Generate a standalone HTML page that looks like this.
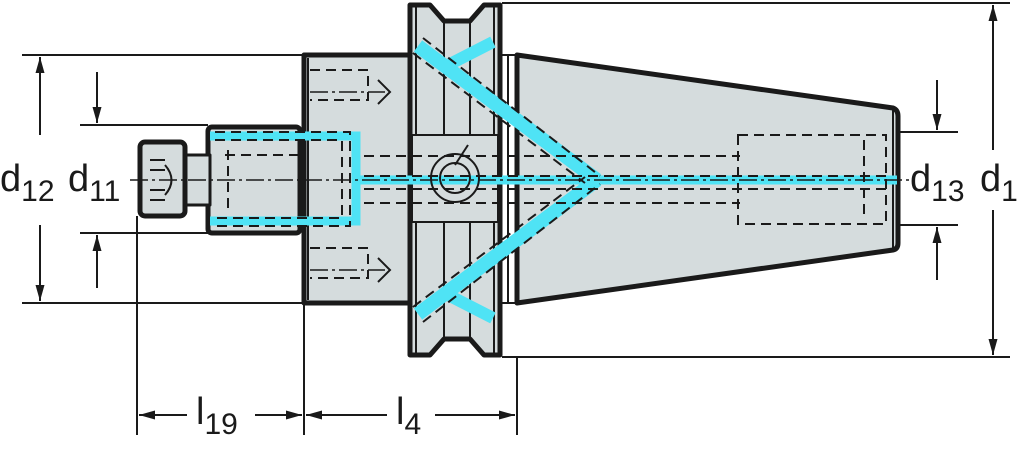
<!DOCTYPE html>
<html><head><meta charset="utf-8"><style>
html,body{margin:0;padding:0;background:#fff;width:1024px;height:451px;overflow:hidden}
text{font-family:"Liberation Sans",sans-serif;fill:#1a1a1a}
</style></head><body>
<svg width="1024" height="451" viewBox="0 0 1024 451" xmlns="http://www.w3.org/2000/svg">
<defs>
<marker id="ah" viewBox="0 0 16 10" refX="16" refY="5" markerWidth="16" markerHeight="10" markerUnits="userSpaceOnUse" orient="auto"><path d="M0,0.5 L16,5 L0,9.5 z" fill="#1a1a1a"/></marker>
</defs>
<g stroke="#1a1a1a" stroke-width="2" fill="none">
<line x1="22" y1="55" x2="304" y2="55"/>
<line x1="22" y1="303" x2="304" y2="303"/>
<line x1="80" y1="125" x2="208" y2="125"/>
<line x1="80" y1="233" x2="208" y2="233"/>
<line x1="502" y1="3" x2="1010" y2="3"/>
<line x1="502" y1="357" x2="1010" y2="357"/>
<line x1="893" y1="132" x2="958" y2="132"/>
<line x1="893" y1="225" x2="958" y2="225"/>
<line x1="137" y1="216" x2="137" y2="435"/>
<line x1="304" y1="303" x2="304" y2="435"/>
<line x1="517" y1="357" x2="517" y2="435"/>
</g>
<g stroke="#1a1a1a" stroke-width="5" fill="#d5dcdd" stroke-linejoin="round">
<path d="M517,55 L893,108 Q898,110 898,116 L898,243 Q898,249 893,250 L517,303 Z"/>
<path d="M410,5 L430,5 L444,21 L470,21 L484,5 L500,5 L500,355 L484,355 L470,339 L444,339 L430,355 L410,355 Z"/>
<rect x="304" y="55" width="106" height="248"/>
<rect x="208" y="127" width="92" height="106" rx="4"/>
<rect x="185" y="155" width="25" height="50" stroke-width="3"/>
<rect x="140" y="142" width="45" height="74" rx="5"/>
</g>
<g stroke="#1a1a1a" stroke-width="2" fill="none">
<line x1="500" y1="55" x2="517" y2="55"/><line x1="500" y1="303" x2="517" y2="303"/>
<line x1="508" y1="55" x2="508" y2="303"/>
<line x1="416" y1="5" x2="416" y2="355"/><line x1="494" y1="5" x2="494" y2="355"/>
<line x1="444" y1="21" x2="444" y2="135"/><line x1="470" y1="21" x2="470" y2="135"/>
<line x1="444" y1="222" x2="444" y2="339"/><line x1="470" y1="222" x2="470" y2="339"/>
<rect x="412" y="135" width="86" height="87" fill="#d5dcdd"/>
<line x1="308" y1="58" x2="308" y2="300"/>
<line x1="893" y1="110" x2="893" y2="248"/>
</g>
<g stroke="#4fe3f5" fill="none" stroke-linecap="butt">
<polyline stroke-width="9" points="210,136 356,136 356,221 210,221"/>
<line stroke-width="9" x1="356" y1="180" x2="897" y2="180"/>
<line stroke-width="14" x1="418" y1="46" x2="597" y2="180"/>
<line stroke-width="14" x1="418" y1="314" x2="597" y2="180"/>
<line stroke-width="12" x1="493" y1="42" x2="450" y2="64"/>
<line stroke-width="12" x1="493" y1="318" x2="450" y2="296"/>
</g>
<g stroke="#1a1a1a" stroke-width="2" fill="none" stroke-dasharray="10,6">
<polyline points="310,70 368,70 368,100 310,100"/>
<polyline points="310,248 368,248 368,278 310,278"/>
<polyline points="215,132 350,132 350,226 215,226"/>
<polyline points="215,140 342,140 342,218 215,218"/>
<polyline points="225,155 300,155 M225,202 300,202"/>
<line x1="228" y1="150" x2="228" y2="210"/>
<line x1="364" y1="156" x2="740" y2="156"/>
<line x1="364" y1="203" x2="740" y2="203"/>
<line x1="364" y1="176" x2="890" y2="176"/>
<line x1="364" y1="189" x2="890" y2="189"/>
<rect x="738" y="135" width="148" height="89"/>
<line x1="864" y1="140" x2="864" y2="220"/>
<line x1="423" y1="38" x2="600" y2="176"/>
<line x1="413" y1="53" x2="585" y2="183"/>
<line x1="423" y1="322" x2="600" y2="184"/>
<line x1="413" y1="307" x2="585" y2="177"/>
</g>
<g stroke="#1a1a1a" stroke-width="1.5" stroke-dasharray="18,4,3,4">
<line x1="130" y1="180" x2="910" y2="180"/>
<line x1="310" y1="92" x2="385" y2="92"/>
<line x1="310" y1="270" x2="385" y2="270"/>
</g>
<g stroke="#1a1a1a" stroke-width="2" fill="none">
<polyline points="378,80 390,92 378,104"/>
<polyline points="378,258 390,270 378,282"/>
<circle cx="455" cy="178" r="24"/><circle cx="455" cy="178" r="15"/>
<line x1="468" y1="145" x2="455" y2="165"/>
<line x1="150" y1="160" x2="165" y2="160"/><line x1="150" y1="170" x2="165" y2="170"/>
<line x1="150" y1="190" x2="165" y2="190"/><line x1="150" y1="200" x2="165" y2="200"/>
<path d="M165,165 Q178,180 165,195"/>
</g>
<g stroke="#1a1a1a" stroke-width="2" fill="none" marker-end="url(#ah)">
<line x1="40" y1="135" x2="40" y2="57"/>
<line x1="40" y1="225" x2="40" y2="301"/>
<line x1="97" y1="72" x2="97" y2="123"/>
<line x1="97" y1="288" x2="97" y2="235"/>
<line x1="937" y1="80" x2="937" y2="130"/>
<line x1="937" y1="280" x2="937" y2="227"/>
<line x1="993" y1="150" x2="993" y2="5"/>
<line x1="993" y1="210" x2="993" y2="355"/>
<line x1="187" y1="415" x2="139" y2="415"/>
<line x1="255" y1="415" x2="302" y2="415"/>
<line x1="387" y1="415" x2="306" y2="415"/>
<line x1="435" y1="415" x2="515" y2="415"/>
</g>
<g font-size="38">
<text x="0" y="191">d<tspan font-size="30" dy="10">12</tspan></text>
<text x="68" y="191">d<tspan font-size="30" dy="10">11</tspan></text>
<text x="910" y="191">d<tspan font-size="30" dy="10">13</tspan></text>
<text x="980" y="191">d<tspan font-size="30" dy="10">1</tspan></text>
<text x="196" y="424">l<tspan font-size="30" dy="10">19</tspan></text>
<text x="396" y="424">l<tspan font-size="30" dy="10">4</tspan></text>
</g>
</svg>
</body></html>
